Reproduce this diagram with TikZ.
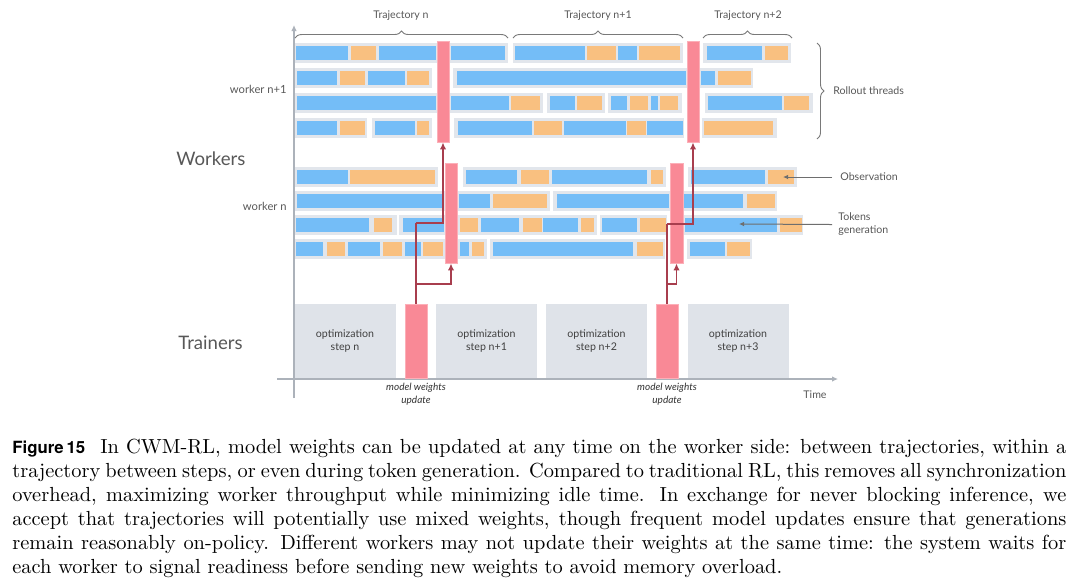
\documentclass[tikz,border=0pt]{standalone}
\usepackage{fontspec}
\setmainfont{Latin Modern Roman}
\newfontfamily\lato{Lato}
\newfontfamily\figfont{TeX Gyre Heros}
\usetikzlibrary{arrows.meta,decorations.pathreplacing}
\definecolor{tk}{RGB}{116,189,247}
\definecolor{ob}{RGB}{249,192,128}
\definecolor{rowgray}{RGB}{226,230,236}
\definecolor{pinkbar}{RGB}{249,137,150}
\definecolor{pinkedge}{RGB}{252,175,184}
\definecolor{linkred}{RGB}{168,62,78}
\definecolor{labelgray}{RGB}{88,88,88}
\definecolor{axisgray}{RGB}{172,178,186}
\definecolor{trainergray}{RGB}{223,227,233}
\definecolor{notegray}{RGB}{110,110,110}
\newcommand\threadrow[3]{%
  \foreach \xa/\xb in {#2} {\fill[rowgray] (\xa,#1-10) rectangle (\xb,#1+10);}
  \foreach \xa/\xb/\col in {#3} {\fill[fill=\col] (\xa,#1-7) rectangle (\xb,#1+7);}
}
\newcommand\capline[2]{\makebox[527pt][s]{#2}}
\begin{document}
\begin{tikzpicture}[x=0.5pt,y=-0.5pt,
  lbl/.style={font=\lato\fontsize{5.3}{6.5}\selectfont, text=labelgray, inner sep=0},
  biglbl/.style={font=\lato\fontsize{9.3}{11}\selectfont, text=labelgray, inner sep=0},
  wlbl/.style={font=\lato\fontsize{5.6}{6.5}\selectfont, text=labelgray, inner sep=0},
  wbar/.style={draw=pinkedge, line width=0.4pt, fill=pinkbar, inner sep=0, minimum width=6pt, minimum height=50.5pt},
  tbar/.style={draw=pinkedge, line width=0.4pt, fill=pinkbar, inner sep=0, minimum width=11pt, minimum height=37pt},
  optbox/.style={fill=trainergray, inner sep=0, minimum width=50.5pt, minimum height=37pt, align=center,
     font=\lato\fontsize{5.3}{6.5}\selectfont, text=black!75},
  link/.style={draw=linkred, line width=0.75pt, -{Latex[length=3.5pt,width=3.2pt]}},
  plainlink/.style={draw=linkred, line width=0.75pt},
  note/.style={draw=notegray, line width=0.5pt, -{Latex[length=2.6pt,width=2.4pt]}},
  axis/.style={draw=axisgray, line width=0.75pt, -{Latex[length=3pt,width=2.8pt]}},
  bracestyle/.style={draw=labelgray!80, line width=0.45pt, decorate, decoration={brace, amplitude=3.5pt}},
  capfont/.style={font=\fontsize{10.2}{12}\selectfont, inner sep=0, anchor=base west}
]
\useasboundingbox (0,0) rectangle (1080,586);
\fill[white] (0,0) rectangle (1080,586);

% axes
\coordinate (ybot) at (294,398);
\coordinate (ytop) at (294,25);
\coordinate (xleft) at (277,379);
\coordinate (xright) at (838,379);
\draw[axis] (ybot) -- (ytop);
\draw[axis] (xleft) -- (xright);

% worker n+1 rows
\threadrow{53}{295/508,513/683,703/791}{296/348/tk,351/376/ob,379/436/tk,451/505/tk,515/585/tk,587/616/ob,618/637/tk,639/680/ob,707/762/tk,765/788/ob}
\threadrow{78}{295/432,453/753}{297/337/tk,340/365/ob,368/405/tk,407/429/ob,457/686/tk,701/715/tk,718/751/ob}
\threadrow{103}{295/543,547/605,608/682,705/813}{297/436/tk,451/509/tk,511/540/ob,550/575/tk,577/602/ob,611/627/tk,630/648/ob,651/658/tk,660/678/ob,708/782/tk,784/809/ob}
\threadrow{128}{295/367,372/432,454/684,702/777}{297/337/tk,340/365/ob,375/415/tk,417/429/ob,458/532/tk,534/562/ob,564/626/tk,627/646/ob,647/683/tk,704/773/ob}

% worker n rows
\threadrow{177}{295/438,463/666,688/797}{297/348/tk,350/435/ob,466/517/tk,521/549/ob,552/647/tk,651/663/ob,691/765/tk,768/794/ob}
\threadrow{201}{295/550,553/777}{297/444/tk,459/490/tk,493/547/ob,557/669/tk,683/743/tk,747/775/ob}
\threadrow{225}{295/397,399/597,600/667,683/803}{296/369/tk,374/392/ob,403/444/tk,460/478/ob,481/519/tk,523/542/ob,543/578/tk,581/594/ob,602/637/tk,640/666/ob,685/777/tk,780/802/ob}
\threadrow{249}{295/487,490/665,687/752}{296/323/tk,327/345/ob,348/380/tk,383/402/ob,405/421/tk,423/443/ob,460/469/tk,472/484/ob,493/633/tk,637/663/ob,690/725/tk,727/750/ob}

% pink update bars on workers
\node[wbar] (u1) at (443,91.5) {};
\node[wbar] (u2) at (693,91.5) {};
\node[wbar, minimum height=50pt] (l1) at (451,213) {};
\node[wbar, minimum height=50pt, minimum width=6.5pt] (l2) at (676.5,213) {};

% trainers
\node[optbox] (s1) at (345,341) {optimization\\step n};
\node[optbox] (s2) at (486.5,341) {optimization\\step n+1};
\node[optbox] (s3) at (596.5,341) {optimization\\step n+2};
\node[optbox] (s4) at (738,341) {optimization\\step n+3};
\node[tbar] (t1) at (416,341) {};
\node[tbar] (t2) at (667,341) {};

% connectors
\coordinate (k1) at (416,223);
\coordinate (j1) at (416,284);
\coordinate (k2) at (667,224);
\coordinate (j2) at (667,284);
\draw[plainlink] (t1.north) -- (k1);
\draw[link] (k1) -| (u1.south);
\draw[link] (j1) -| (l1.south);
\draw[plainlink] (t2.north) -- (k2);
\draw[link] (k2) -| (u2.south);
\draw[link] (j2) -| (l2.south);

% braces and labels
\coordinate (b1a) at (295,38); \coordinate (b1b) at (508,38);
\coordinate (b2a) at (513,38); \coordinate (b2b) at (683,38);
\coordinate (b3a) at (703,38); \coordinate (b3b) at (792,38);
\coordinate (b4a) at (817,43); \coordinate (b4b) at (817,139);
\draw[bracestyle] (b1a) -- (b1b);
\draw[bracestyle] (b2a) -- (b2b);
\draw[bracestyle] (b3a) -- (b3b);
\draw[bracestyle] (b4a) -- (b4b);
\node[lbl] (tr1) at (401,16) {Trajectory n};
\node[lbl] (tr2) at (598,16) {Trajectory n+1};
\node[lbl] (tr3) at (748,16) {Trajectory n+2};
\node[lbl, anchor=west] (roll) at (833,91) {Rollout threads};

% notes
\coordinate (obsat) at (783,177);
\coordinate (tokat) at (739,224);
\node[lbl, anchor=west, inner xsep=4pt] (obslbl) at (832,177) {Observation};
\node[lbl, anchor=west, inner xsep=3pt, align=left] (toklbl) at (832,224.5) {Tokens\\generation};
\draw[note] (obslbl.west) -- (obsat);
\draw[note] (toklbl.west) -- (tokat);

% left labels
\node[wlbl, anchor=base east] (wn1) at (287,93) {worker n+1};
\node[wlbl, anchor=base east] (wn) at (287,210) {worker n};
\node[biglbl, anchor=base west] (workers) at (176,165) {Workers};
\node[biglbl, anchor=base west] (trainers) at (178,349) {Trainers};

% bottom labels
\node[lbl, font=\lato\itshape\fontsize{5}{6.5}\selectfont, text=black!80, align=center] (mw1) at (416,394.5) {model weights\\update};
\node[lbl, font=\lato\itshape\fontsize{5}{6.5}\selectfont, text=black!80, align=center] (mw2) at (667,394.5) {model weights\\update};
\node[lbl] (time) at (815,395) {Time};

% caption
\node[capfont] (c1) at (12,453.5) {\capline{}{{\figfont\bfseries\fontsize{8.4}{10}\selectfont Figure\,15}\hspace{7.5pt}In CWM-RL, model weights can be updated at any time on the worker side: between trajectories, within a}};
\node[capfont] (c2) at (12,477.5) {\capline{}{trajectory between steps, or even during token generation. Compared to traditional RL, this removes all synchronization}};
\node[capfont] (c3) at (12,501.5) {\capline{}{overhead, maximizing worker throughput while minimizing idle time. In exchange for never blocking inference, we}};
\node[capfont] (c4) at (12,525.5) {\capline{}{accept that trajectories will potentially use mixed weights, though frequent model updates ensure that generations}};
\node[capfont] (c5) at (12,549.5) {\capline{}{remain reasonably on-policy. Different workers may not update their weights at the same time: the system waits for}};
\node[capfont] (c6) at (12,573.5) {each worker to signal readiness before sending new weights to avoid memory overload.};
\end{tikzpicture}
\end{document}
